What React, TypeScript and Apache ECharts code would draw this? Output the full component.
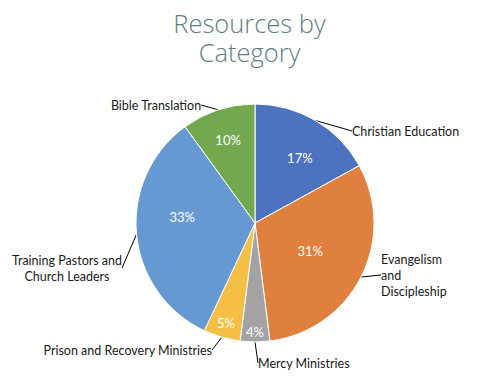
import React, { useEffect, useRef } from "react";
import * as echarts from "echarts";

const categories = [
  "Christian Education",
  "Evangelism and Discipleship",
  "Mercy Ministries",
  "Prison and Recovery Ministries",
  "Training Pastors and Church Leaders",
  "Bible Translation",
];
const values = [17, 31, 4, 5, 33, 10];
const labelTexts = [
  "Christian Education",
  "Evangelism\nand\nDiscipleship",
  "Mercy Ministries",
  "Prison and Recovery Ministries",
  "Training Pastors and\nChurch Leaders",
  "Bible Translation",
];
const titleLines = ["Resources by", "Category"];

// styling / placement (not data)
const colors = ["#4C72C0", "#E0803E", "#A3A3A3", "#F4BF44", "#6699D1", "#74A84E"];
const labelX = [352, 381, 258, 212, 67, 156];
const labelY = [131, 275, 363, 350, 268, 105];
const labelAlign = ["left", "left", "left", "right", "center", "center"];
const pctDist = [76, 59, 106, 101, 70, 84];
const pctAngleShift = [4, 0, 0, 0, 10, 0];
const titleTops = [9, 38];

const CENTER: [number, number] = [255, 223];
const R = 119;

export default function App() {
  const ref = useRef<HTMLDivElement>(null);
  useEffect(() => {
    if (!ref.current) return;
    const chart = echarts.init(ref.current, null, { renderer: "svg" });
    const data = categories.map((name, i) => ({
      name,
      value: values[i],
      itemStyle: { color: colors[i] },
    }));
    const pctSeries = categories.map((_, k) => ({
      type: "pie",
      silent: true,
      center: CENTER,
      radius: [pctDist[k] - 4, pctDist[k] + 4],
      startAngle: 90 - pctAngleShift[k],
      clockwise: true,
      z: 5,
      itemStyle: { color: "transparent", borderWidth: 0 },
      labelLine: { show: false },
      emphasis: { disabled: true },
      data: categories.map((name, i) => ({
        name,
        value: values[i],
        label: {
          show: i === k,
          position: "inside",
          formatter: "{c}%",
          color: "#ffffff",
          fontFamily: "Lato",
          fontSize: 13,
        },
      })),
    }));
    chart.setOption({
      animation: false,
      backgroundColor: "#ffffff",
      title: titleLines.map((t, i) => ({
        text: t,
        left: "center",
        top: titleTops[i],
        padding: 0,
        textStyle: {
          fontFamily: "Open Sans",
          fontWeight: 300,
          fontSize: 25.5,
          lineHeight: 27,
          color: "#5E7E86",
        },
      })),
      series: [
        {
          type: "pie",
          center: CENTER,
          radius: [0, R],
          startAngle: 90,
          clockwise: true,
          avoidLabelOverlap: false,
          itemStyle: { borderColor: "#ffffff", borderWidth: 1 },
          label: {
            show: true,
            position: "outside",
            formatter: (p: any) => labelTexts[p.dataIndex],
            color: "#1a1a1a",
            fontFamily: "Lato",
            fontSize: 12.5,
            lineHeight: 16,
          },
          labelLine: {
            show: true,
            length: 8,
            length2: 0,
            lineStyle: { color: "#000000", width: 1 },
          },
          labelLayout: (params: any) => {
            const i = params.dataIndex;
            return {
              x: labelX[i],
              y: labelY[i],
              align: labelAlign[i],
              verticalAlign: "middle",
            };
          },
          data,
        },
        ...pctSeries,
      ],
    } as any);
    return () => chart.dispose();
  }, []);
  return <div ref={ref} style={{ width: 499, height: 382, margin: -8 }} />;
}
